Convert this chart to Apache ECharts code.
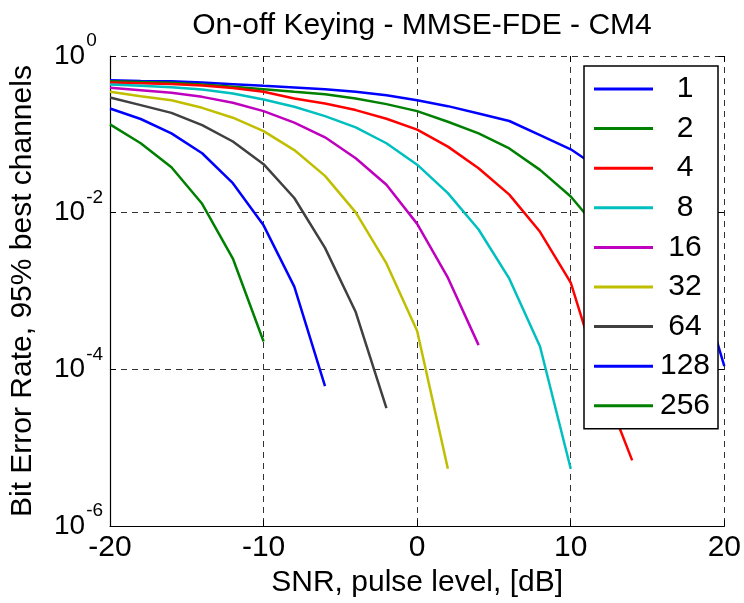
<!DOCTYPE html>
<html>
<head>
<meta charset="utf-8">
<script src="https://cdn.jsdelivr.net/npm/echarts@6/dist/echarts.min.js"></script>
<style>
html,body{margin:0;padding:0;background:#fff;}
#chart{width:744px;height:603px;}
</style>
</head>
<body>
<div id="chart"></div>
<script>
// SNR values (dB)
const snr = [-20,-18,-16,-14,-12,-10,-8,-6,-4,-2,0,2,4,6,8,10,12,14,16,18,20];
// Legend names
const seriesNames = ['1','2','4','8','16','32','64','128','256'];
// BER values per series, starting at snr[0]
const ber1   = [0.491,0.48,0.477,0.459,0.437,0.416,0.397,0.377,0.349,0.316,0.273,0.229,0.185,0.148,0.098,0.0645,0.035,0.016,0.006,0.0023,0.00011];
const ber2   = [0.477,0.466,0.454,0.433,0.404,0.377,0.349,0.326,0.287,0.243,0.198,0.145,0.103,0.066,0.0352,0.0161,0.0055,0.0013,0.00015];
const ber4   = [0.458,0.45,0.44,0.42,0.39,0.349,0.287,0.248,0.204,0.158,0.115,0.0697,0.037,0.017,0.0057,0.00128,7e-5,6.9e-6];
const ber8   = [0.433,0.416,0.4,0.374,0.333,0.279,0.225,0.171,0.123,0.077,0.041,0.0178,0.0061,0.00144,1.96e-4,5.4e-6];
const ber16  = [0.392,0.366,0.339,0.301,0.253,0.198,0.141,0.0917,0.0496,0.0227,0.0072,0.00148,2.04e-4];
const ber32  = [0.349,0.307,0.273,0.218,0.163,0.11,0.063,0.0295,0.0101,0.00225,3.1e-4,5.4e-6];
const ber64  = [0.296,0.236,0.188,0.131,0.081,0.0416,0.0154,0.00356,5.4e-4,3.2e-5];
const ber128 = [0.214,0.157,0.103,0.0574,0.0238,0.0069,0.00114,6.1e-5];
const ber256 = [0.134,0.077,0.038,0.013,0.0026,2.27e-4];
const allBer = [ber1,ber2,ber4,ber8,ber16,ber32,ber64,ber128,ber256];
const colors = ['#0000ff','#008000','#ff0000','#00bfbf','#bf00bf','#bfbf00','#404040','#0000ff','#008000'];
// x tick labels
const xTicks = [-20,-10,0,10,20];

const FONT = 'Liberation Sans, Arial, Helvetica, sans-serif';

const series = allBer.map((vals, i) => ({
  name: seriesNames[i],
  type: 'line',
  data: vals.map((v, k) => [snr[k], v]),
  showSymbol: false,
  symbol: 'none',
  lineStyle: { width: 2.5, color: colors[i] },
  itemStyle: { color: colors[i] },
  animation: false,
  z: 3
}));

const chart = echarts.init(document.getElementById('chart'), null, { renderer: 'canvas' });
chart.setOption({
  backgroundColor: '#fff',
  animation: false,
  textStyle: { fontFamily: FONT },
  title: {
    text: 'On-off Keying - MMSE-FDE - CM4',
    left: 417, top: 6, textAlign: 'center',
    textStyle: { fontFamily: FONT, fontSize: 30, fontWeight: 'normal', color: '#000' }
  },
  grid: { left: 109, right: 19, top: 56, bottom: 76, containLabel: false },
  legend: {
    orient: 'vertical',
    left: 584, top: 66,
    padding: [8, 6, 8, 10],
    itemWidth: 59, itemHeight: 3, itemGap: 9.6,
    backgroundColor: '#fff',
    borderColor: '#000', borderWidth: 1.5,
    icon: 'rect',
    formatter: n => '{a|' + n + '}',
    textStyle: {
      fontFamily: FONT, fontSize: 30, color: '#000',
      rich: { a: { width: 54, align: 'center', fontSize: 30, lineHeight: 30, fontFamily: FONT } }
    },
    data: seriesNames.map((n, i) => ({ name: n, itemStyle: { color: colors[i] } })),
    z: 10
  },
  xAxis: [{
    type: 'value', min: xTicks[0], max: xTicks[xTicks.length - 1], interval: 10,
    name: 'SNR, pulse level, [dB]', nameLocation: 'middle', nameGap: 37,
    nameTextStyle: { fontFamily: FONT, fontSize: 30, color: '#000' },
    axisLine: { show: true, onZero: false, lineStyle: { color: '#000', width: 1.2 } },
    axisTick: { show: true, inside: true, length: 6, lineStyle: { color: '#000' } },
    axisLabel: { fontFamily: FONT, fontSize: 30, color: '#000', margin: 7 },
    splitLine: { show: true, lineStyle: { color: '#333', width: 1, type: [6, 5] } }
  }, {
    type: 'value', position: 'top', min: xTicks[0], max: xTicks[xTicks.length - 1], interval: 10,
    axisLine: { show: false, onZero: false },
    axisTick: { show: true, inside: true, length: 6, lineStyle: { color: '#000' } },
    axisLabel: { show: false }, splitLine: { show: false }
  }],
  yAxis: [{
    type: 'log', logBase: 10, min: 1e-6, max: 1, interval: 2,
    name: 'Bit Error Rate, 95% best channels', nameLocation: 'middle', nameGap: 72, nameRotate: 90,
    nameTextStyle: { fontFamily: FONT, fontSize: 30, color: '#000' },
    axisLine: { show: true, onZero: false, lineStyle: { color: '#000', width: 1.2 } },
    axisTick: { show: true, inside: true, length: 6, lineStyle: { color: '#000' } },
    minorTick: { show: false },
    axisLabel: {
      align: 'left', margin: 56, color: '#000',
      formatter: v => '{b|10}{s|' + Math.round(Math.log10(v)) + '}',
      rich: {
        b: { fontFamily: FONT, fontSize: 28, color: '#000', verticalAlign: 'middle' },
        s: { fontFamily: FONT, fontSize: 19, color: '#000', padding: [0, 0, 30, 1], verticalAlign: 'middle' }
      }
    },
    splitLine: { show: true, lineStyle: { color: '#333', width: 1, type: [6, 5] } }
  }, {
    type: 'log', logBase: 10, min: 1e-6, max: 1, interval: 2, position: 'right',
    axisLine: { show: false, onZero: false },
    axisTick: { show: true, inside: true, length: 6, lineStyle: { color: '#000' } },
    axisLabel: { show: false }, splitLine: { show: false }
  }],
  series: series
});
</script>
</body>
</html>
